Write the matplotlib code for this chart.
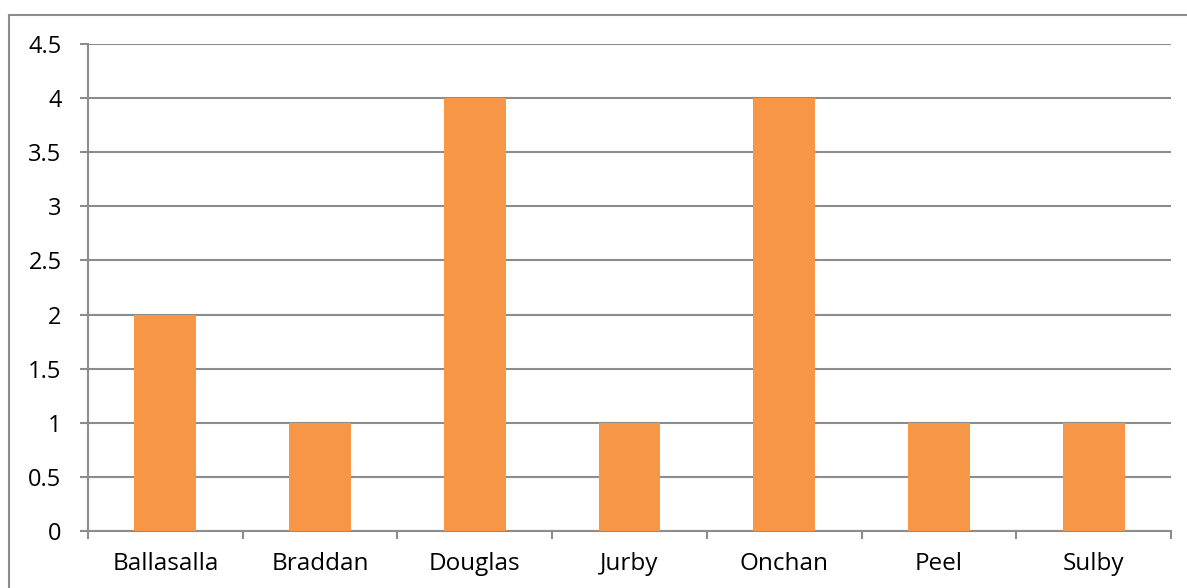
import matplotlib.pyplot as plt
from matplotlib.lines import Line2D

towns = ["Ballasalla", "Braddan", "Douglas", "Jurby", "Onchan", "Peel", "Sulby"]
counts = [2, 1, 4, 1, 4, 1, 1]
y_ticks = [0, 0.5, 1, 1.5, 2, 2.5, 3, 3.5, 4, 4.5]
y_labels = ["0", "0.5", "1", "1.5", "2", "2.5", "3", "3.5", "4", "4.5"]

W, H = 1187, 588
grid_col = "#8c8c8c"

plt.rcParams['font.family'] = ['Open Sans', 'DejaVu Sans']
fig = plt.figure(figsize=(W / 100, H / 100), dpi=100)

# outer chart border (left and top edges visible)
fig.add_artist(Line2D([8.5 / W, 8.5 / W], [0, 1 - 14.5 / H], color="#8c8c8c", lw=1.5))
fig.add_artist(Line2D([8.5 / W, 1], [1 - 14.5 / H, 1 - 14.5 / H], color="#8c8c8c", lw=1.5))

ax = fig.add_axes([88 / W, 1 - 531 / H, (1171 - 88) / W, (531 - 44) / H])

x = list(range(len(towns)))
ax.bar(x, counts, width=0.4, color="#f79646", zorder=3)

ax.set_xlim(-0.5, len(towns) - 0.5)
ax.set_ylim(0, 4.5)
ax.set_yticks(y_ticks)
ax.set_yticklabels(y_labels)
ax.yaxis.grid(True, color=grid_col, lw=1.5, zorder=0)
ax.set_axisbelow(True)

ax.set_xticks(x)
ax.set_xticklabels(towns)
ax.set_xticks([i - 0.5 for i in range(len(towns) + 1)], minor=True)
ax.tick_params(axis="x", which="major", length=0, pad=15, labelsize=17.5)
ax.tick_params(axis="x", which="minor", length=6, width=1.5, color=grid_col)
ax.tick_params(axis="y", length=6, width=1.5, color=grid_col, labelsize=17, pad=13)

for side in ["top", "right"]:
    ax.spines[side].set_visible(False)
for side in ["left", "bottom"]:
    ax.spines[side].set_color(grid_col)
    ax.spines[side].set_linewidth(1.5)

fig.savefig("out.png", dpi=100)
